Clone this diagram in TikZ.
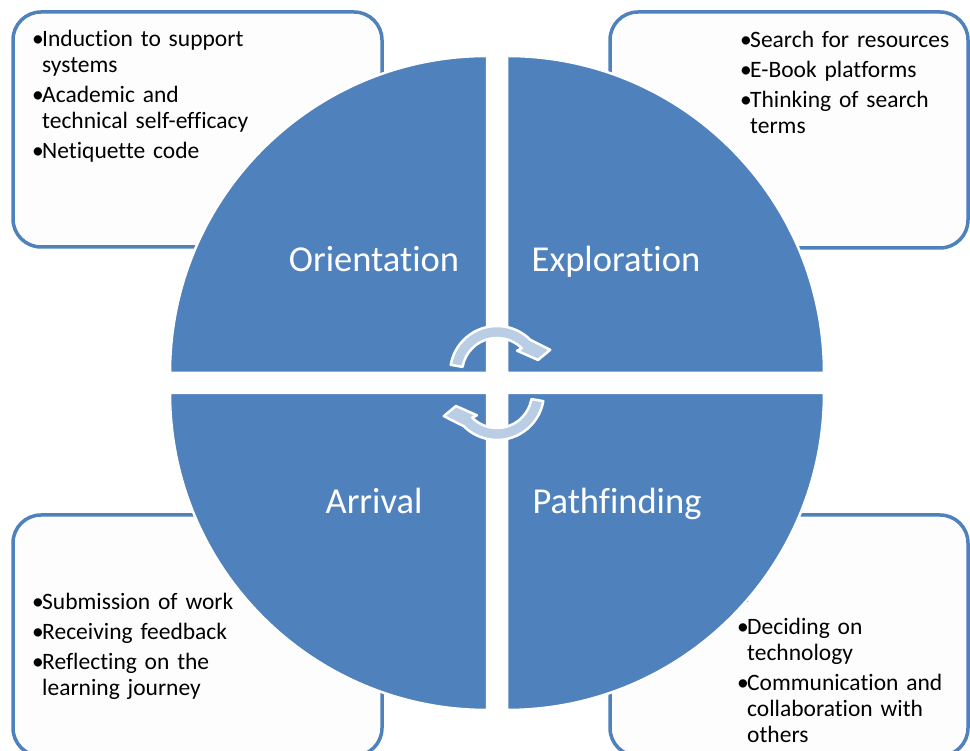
\documentclass[tikz,border=0pt]{standalone}
\usepackage{fontspec}
\setmainfont{Carlito}[Ligatures=NoCommon]
\usetikzlibrary{positioning}
\definecolor{qblue}{HTML}{4F81BD}
\definecolor{cycfill}{HTML}{B9CDE5}
\definecolor{boxfill}{HTML}{FDFDFD}
% bullet item with hanging indent
\newcommand{\bitem}[1]{\hangindent=10pt\hangafter=1\noindent
  \makebox[10pt][l]{\textbullet}#1\par}
\begin{document}
\begin{tikzpicture}[x=1pt,y=1pt,
  box/.style={draw=qblue,fill=boxfill,line width=3.5pt,rounded corners=28pt},
  qd/.style={fill=qblue,draw=white,line width=2.5pt,line join=round},
  lbl/.style={text=white,font=\fontsize{36.5}{40}\selectfont,anchor=base},
  txt/.style={anchor=base west,inner sep=0,text width=300pt,align=left,
    font=\fontsize{23.5}{26}\selectfont},
  cyc/.style={fill=cycfill,draw=white,line width=2.5pt,line join=round}]
\useasboundingbox (0,0) rectangle (970,751);
\clip (0,0) rectangle (970,751);

% ============ side boxes ============
\draw[box] (13,504) rectangle (382,739);
\draw[box] (610,503) rectangle (968,739);
\draw[box] (13,-5) rectangle (382,236);
\draw[box] (610,-5) rectangle (968,236);

\node[txt] (orient) at (32,704) {\setlength{\parskip}{4pt}%
  \bitem{Induction to support\newline systems}
  \bitem{Academic and\newline technical self-efficacy}
  \bitem{Netiquette code}};
\node[txt] (explore) at (740,703) {\setlength{\parskip}{4pt}%
  \bitem{Search for resources}
  \bitem{E-Book platforms}
  \bitem{Thinking of search\newline terms}};
\node[txt] (arrive) at (32,141) {\setlength{\parskip}{4pt}%
  \bitem{Submission of work}
  \bitem{Receiving feedback}
  \bitem{Reflecting on the\newline learning journey}};
\node[txt] (pathf) at (737,116) {\setlength{\parskip}{4pt}%
  \bitem{Deciding on\newline technology}
  \bitem{Communication and\newline collaboration with\newline others}};
\node[inner sep=0,font=\fontsize{8}{9}\selectfont] (dot) at (748,149) {.};

% ============ the four quarters ============
\foreach \cx/\cy/\a in {487/378/90,507/378/0,487/358/180,507/358/270}
  \draw[qd] (\cx,\cy) -- ++(\a:317) arc[start angle=\a,delta angle=90,radius=317] -- cycle;

\node[lbl] (q1) at (374,479) {Orientation};
\node[lbl] (q2) at (616,479) {Exploration};
\node[lbl] (q3) at (374,237) {Arrival};
\node[lbl] (q4) at (617,237) {Pathfinding};

% ============ cycle arrows in the middle ============
\foreach \cx/\cy/\rot in {497/378/0,497/358/180}{
  \begin{scope}[shift={(\cx,\cy)},rotate=\rot]
    \draw[cyc] (170:47) arc[start angle=170,end angle=45,radius=47]
      -- (23.5:58) -- (17.6:43) -- (48:30) -- (45:35)
      arc[start angle=45,end angle=170,radius=35] -- cycle;
  \end{scope}}

\end{tikzpicture}
\end{document}
